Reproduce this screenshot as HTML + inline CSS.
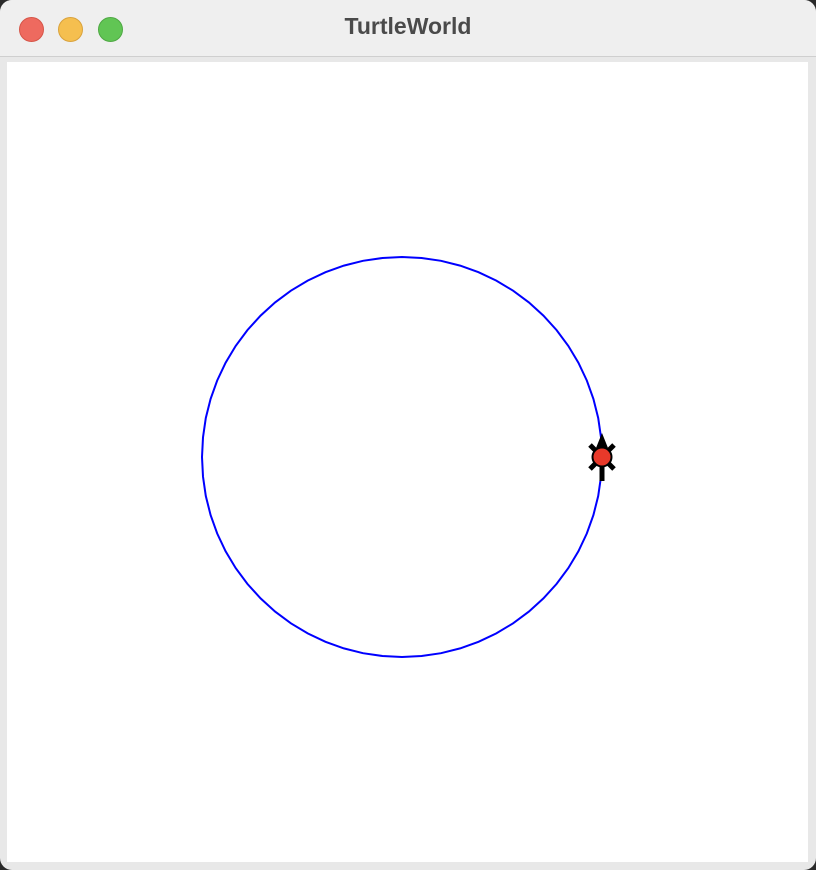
<!DOCTYPE html>
<html><head><meta charset="utf-8"><style>
html,body{margin:0;padding:0;background:#2a2a2a;width:816px;height:870px;overflow:hidden}
#win{position:absolute;left:0;top:0;width:816px;height:870px;background:#e8e8e8;border-radius:12px;overflow:hidden}
#title{position:absolute;left:0;top:0;width:816px;height:56px;background:#efefef;border-bottom:1px solid #cfcfcf}
#title span{position:absolute;left:0;width:816px;top:13px;text-align:center;font:bold 23px "Liberation Sans",sans-serif;color:#4a4a4a}
.dot{position:absolute;top:17px;width:23px;height:23px;border-radius:50%}
#canvas{position:absolute;left:7px;top:62px;width:801px;height:800px;background:#fff}
</style></head><body>
<div id="win">
<div id="title">
<div class="dot" style="left:19px;background:#ee6a5f;border:1px solid #d65548"></div>
<div class="dot" style="left:58px;background:#f5bf4f;border:1px solid #d9a23c"></div>
<div class="dot" style="left:98px;background:#61c554;border:1px solid #4ea843"></div>
<span>TurtleWorld</span>
</div>
<div id="canvas">
<svg id="svg" width="801" height="800" viewBox="7 62 801 800"></svg>
</div>
</div>
<script>
const radius=[200];
const sides=[64];
const center=[402,457];
const svg=document.getElementById('svg');
const ns='http://www.w3.org/2000/svg';
const r=radius[0],n=sides[0];
let pts=[];
for(let k=0;k<=n;k++){const a=2*Math.PI*k/n;pts.push((center[0]+r*Math.cos(a)).toFixed(1)+','+(center[1]-r*Math.sin(a)).toFixed(1));}
const pl=document.createElementNS(ns,'polyline');
pl.setAttribute('points',pts.join(' '));
pl.setAttribute('fill','none');pl.setAttribute('stroke','#0000ff');pl.setAttribute('stroke-width','2');


svg.appendChild(pl);
const tx=center[0]+r,ty=center[1];
const g=document.createElementNS(ns,'g');


g.innerHTML=`<line x1="${tx}" y1="${ty}" x2="${tx}" y2="${ty+24}" stroke="#000" stroke-width="5"/>
<line x1="${tx-12}" y1="${ty-12}" x2="${tx+12}" y2="${ty+12}" stroke="#000" stroke-width="5"/>
<line x1="${tx+12}" y1="${ty-12}" x2="${tx-12}" y2="${ty+12}" stroke="#000" stroke-width="5"/>
<polygon points="${tx},${ty-24} ${tx-6},${ty-9} ${tx+6},${ty-9}" fill="#000"/>
<circle cx="${tx}" cy="${ty}" r="9.5" fill="#e8392a" stroke="#000" stroke-width="2"/>`;
svg.appendChild(g);
</script>
</body></html>
